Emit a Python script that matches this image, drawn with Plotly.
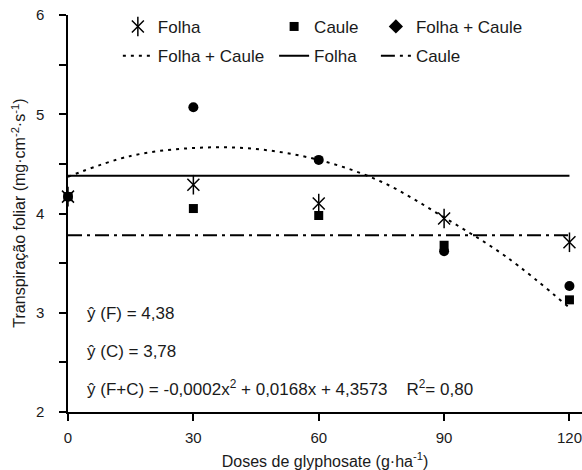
import plotly.graph_objects as go

doses = [0, 30, 60, 90, 120]
folha = [4.17, 4.29, 4.10, 3.95, 3.71]
caule = [4.17, 4.05, 3.98, 3.68, 3.13]
folha_caule = [4.17, 5.07, 4.54, 3.62, 3.27]

folha_mean = 4.38
caule_mean = 3.78

curve_x = [0, 15, 30, 45, 60, 75, 90, 105, 120]
curve_y = [4.37, 4.58, 4.66, 4.65, 4.54, 4.32, 3.96, 3.56, 3.05]

x_ticks = [0, 30, 60, 90, 120]
y_ticks = [2, 3, 4, 5, 6]

FONT = "Liberation Sans"
TXT = "#1a1a1a"
FS = 17

fig = go.Figure()

# fitted lines
fig.add_trace(go.Scatter(x=curve_x, y=curve_y, mode="lines", name="Folha + Caule",
                         line=dict(color="black", width=2, dash="3px,5px", shape="spline", smoothing=1.0),
                         legend="legend4", cliponaxis=False))
fig.add_trace(go.Scatter(x=[doses[0], doses[-1]], y=[folha_mean, folha_mean], mode="lines", name="Folha",
                         line=dict(color="black", width=2), legend="legend5", cliponaxis=False))
fig.add_trace(go.Scatter(x=[doses[0], doses[-1]], y=[caule_mean, caule_mean], mode="lines", name="Caule",
                         line=dict(color="black", width=2, dash="14px,5px,3px,5px"), legend="legend6",
                         cliponaxis=False))

# points
fig.add_trace(go.Scatter(x=doses, y=folha_caule, mode="markers", showlegend=False,
                         marker=dict(symbol="circle", size=10, color="black"), cliponaxis=False))
fig.add_trace(go.Scatter(x=doses, y=caule, mode="markers", name="Caule",
                         marker=dict(symbol="square", size=9, color="black"), legend="legend2", cliponaxis=False))
fig.add_trace(go.Scatter(x=doses, y=folha, mode="markers", name="Folha",
                         marker=dict(symbol="x-thin-open", size=12, color="black", line=dict(width=1.5, color="black")),
                         legend="legend", cliponaxis=False))
fig.add_trace(go.Scatter(x=doses, y=folha, mode="markers", name="Folha",
                         marker=dict(symbol="line-ns-open", size=14, color="black", line=dict(width=1.5, color="black")),
                         legend="legend7", cliponaxis=False))
fig.add_trace(go.Scatter(x=[None], y=[None], mode="markers", name="Folha + Caule",
                         marker=dict(symbol="diamond", size=11, color="black"), legend="legend3"))

def lg(x, y, color=TXT):
    return dict(x=x, y=y, xanchor="left", yanchor="middle", bgcolor="rgba(0,0,0,0)",
                borderwidth=0, font=dict(family=FONT, size=FS, color=color))

row1, row2 = 0.970, 0.896
c1, c2, c3 = 0.097, 0.401, 0.599

fig.update_layout(
    width=582, height=470,
    margin=dict(l=68, r=0, t=15, b=58.3, autoexpand=False),
    paper_bgcolor="white", plot_bgcolor="white",
    font=dict(family=FONT, color=TXT),
    showlegend=True,
    legend=lg(c1, row1),
    legend2=lg(c2, row1),
    legend3=lg(c3, row1),
    legend4=lg(c1, row2),
    legend5=lg(c2, row2),
    legend6=lg(c3, row2),
    legend7=lg(c1, row1, color="rgba(0,0,0,0)"),
    xaxis=dict(range=[0, 123], tickvals=x_ticks, ticktext=[str(v) for v in x_ticks],
               automargin=False, ticklabeloverflow="allow",
               showgrid=False, zeroline=False, showline=True, linecolor="black", linewidth=1.5,
               ticks="outside", ticklen=7, tickwidth=1.5, tickcolor="black",
               ticklabelstandoff=4,
               tickfont=dict(family=FONT, size=15, color=TXT),
               title=dict(text="Doses de glyphosate (g·ha<sup>-1</sup>)", font=dict(family=FONT, size=16, color=TXT))),
    yaxis=dict(range=[2, 6], tickvals=y_ticks, ticktext=[str(v) for v in y_ticks],
               automargin=False,
               showgrid=False, zeroline=False, showline=True, linecolor="black", linewidth=1.5,
               ticks="outside", ticklen=7, tickwidth=1.5, tickcolor="black",
               ticklabelstandoff=12,
               minor=dict(dtick=0.5, tick0=2, ticks="outside", ticklen=7, tickwidth=1.5, tickcolor="black"),
               tickfont=dict(family=FONT, size=15, color=TXT)),
)

# y-axis title as a rotated annotation for exact placement
fig.add_annotation(x=-0.097, y=0.5, xref="paper", yref="paper", textangle=-90, showarrow=False,
                   text="Transpiração foliar (mg·cm<sup>-2</sup>·s<sup>-1</sup>)",
                   xanchor="center", yanchor="middle", font=dict(family=FONT, size=16, color=TXT))

ann = [
    (0.249, "ŷ (F) = 4,38"),
    (0.153, "ŷ (C) = 3,78"),
    (0.060, "ŷ (F+C) = -0,0002x<sup>2</sup> + 0,0168x + 4,3573    R<sup>2</sup>= 0,80"),
]
for y, t in ann:
    fig.add_annotation(x=0.033, y=y, xref="paper", yref="paper", text=t, showarrow=False,
                       xanchor="left", yanchor="middle", font=dict(family=FONT, size=FS, color=TXT))

# remove the default 8px page margin so the 582x470 figure fills the window exactly
fig.write_html("out.html", config={"displayModeBar": False},
               post_script="document.body.style.margin='0';document.body.style.overflow='hidden';")
